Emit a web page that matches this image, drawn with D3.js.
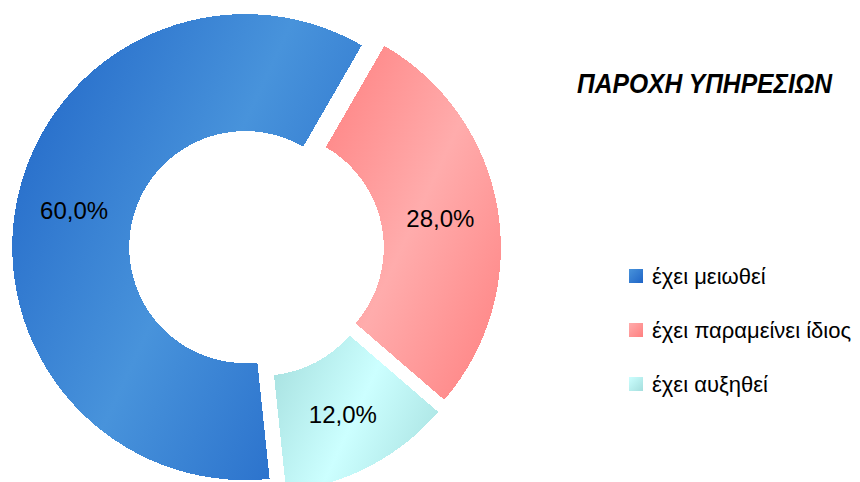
<!DOCTYPE html>
<html>
<head>
<meta charset="utf-8">
<script src="https://cdn.jsdelivr.net/npm/d3@7"></script>
<style>
  html, body { margin: 0; padding: 0; background: #fff; }
  svg { display: block; }
  text { font-family: "Liberation Sans", Arial, sans-serif; }
</style>
</head>
<body>
<svg id="chart" width="860" height="482"></svg>
<script>
// Service provision survey: share of answers per category
const title = "ΠΑΡΟΧΗ ΥΠΗΡΕΣΙΩΝ";
const categories = ["έχει μειωθεί", "έχει παραμείνει ίδιος", "έχει αυξηθεί"];
const values = [60, 28, 12];
const darkColors = ["#1f64c6", "#ff8080", "#a4dedd"];
const lightColors = ["#4893db", "#ffacac", "#ccffff"];

const width = 860, height = 482;
const cx = 256.5, cy = 249.5;
const outerR = 233, innerR = 116, explode = 11.5;
const start = 174 * Math.PI / 180;

const svg = d3.select("#chart");
const defs = svg.append("defs");

const grLocale = d3.formatLocale({ decimal: ",", thousands: ".", grouping: [3], currency: ["", "€"] });
const fmt = v => grLocale.format(".1f")(v) + "%";

const pie = d3.pie().sort(null).value(d => d)
  .startAngle(start).endAngle(start + 2 * Math.PI);
const arcs = pie(values);
const arc = d3.arc().innerRadius(innerR).outerRadius(outerR);
const labelArc = d3.arc().innerRadius(175).outerRadius(175);

const g = svg.append("g").attr("transform", `translate(${cx},${cy})`);

const slices = g.selectAll("g.slice").data(arcs).join("g")
  .attr("class", "slice")
  .attr("transform", d => {
    const mid = (d.startAngle + d.endAngle) / 2;
    return `translate(${explode * Math.sin(mid)},${-explode * Math.cos(mid)})`;
  });

slices.append("path")
  .attr("d", arc)
  .attr("shape-rendering", "crispEdges")
  .each(function (d, i) {
    // axial gradient across the slice's bounding box: dark - light - dark
    const b = this.getBBox();
    const ang = 25 * Math.PI / 180;
    const c = Math.cos(ang), s = Math.sin(ang);
    const L = (b.width * c + b.height * s) / 2;
    const mx = b.x + b.width / 2, my = b.y + b.height / 2;
    const grad = defs.append("linearGradient")
      .attr("id", "slice-grad-" + i)
      .attr("gradientUnits", "userSpaceOnUse")
      .attr("x1", mx - L * c).attr("y1", my - L * s)
      .attr("x2", mx + L * c).attr("y2", my + L * s);
    grad.append("stop").attr("offset", 0).attr("stop-color", darkColors[i]);
    grad.append("stop").attr("offset", 0.5).attr("stop-color", lightColors[i]);
    grad.append("stop").attr("offset", 1).attr("stop-color", darkColors[i]);
    d3.select(this).attr("fill", `url(#slice-grad-${i})`);
  });

slices.append("text")
  .attr("transform", d => `translate(${labelArc.centroid(d)})`)
  .attr("text-anchor", "middle")
  .attr("dy", "0.36em")
  .attr("font-size", 24)
  .attr("fill", "#000")
  .text(d => fmt(d.data));

// Title
svg.append("text")
  .attr("x", 577).attr("y", 93)
  .attr("font-size", 27)
  .attr("font-weight", "bold")
  .attr("font-style", "italic")
  .attr("textLength", 255)
  .attr("lengthAdjust", "spacingAndGlyphs")
  .attr("fill", "#000")
  .text(title);

// Legend
const legendY = d3.scalePoint().domain(categories).range([276, 384]);
const legend = svg.append("g").selectAll("g").data(categories).join("g")
  .attr("transform", d => `translate(629,${legendY(d)})`);

categories.forEach((c, i) => {
  const lg = defs.append("linearGradient").attr("id", "legend-grad-" + i)
    .attr("x1", 0).attr("y1", 0).attr("x2", 1).attr("y2", 1);
  lg.append("stop").attr("offset", 0).attr("stop-color", lightColors[i]);
  lg.append("stop").attr("offset", 1).attr("stop-color", darkColors[i]);
});

legend.append("rect")
  .attr("x", 0).attr("y", -7).attr("width", 14).attr("height", 14)
  .attr("fill", (d, i) => `url(#legend-grad-${i})`);

legend.append("text")
  .attr("x", 23).attr("y", 7.5)
  .attr("font-size", 22)
  .attr("fill", "#000")
  .text(d => d);
</script>
</body>
</html>
